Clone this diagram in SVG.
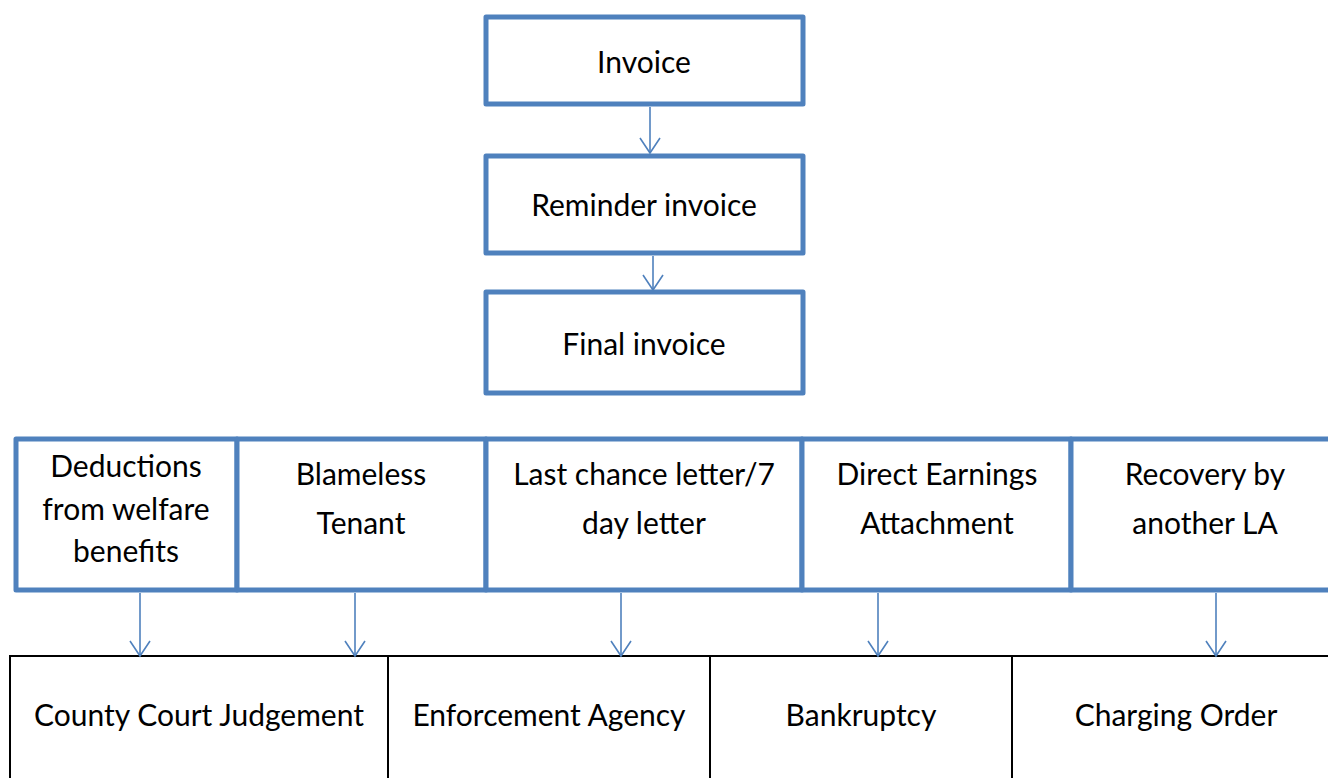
<svg xmlns="http://www.w3.org/2000/svg" width="1328" height="778" viewBox="0 0 1328 778">
<style>
.b{fill:#fff;stroke:#4F81BD;stroke-width:5;stroke-linejoin:round}
.k{fill:#fff;stroke:#000;stroke-width:2}
.t{font-family:Lato,"Open Sans","Liberation Sans",sans-serif;font-size:30px;fill:#000;text-anchor:middle}
.c{stroke:#4F81BD;stroke-width:1.6;fill:none}
</style>
<defs>
<marker id="ah" markerUnits="userSpaceOnUse" markerWidth="20" markerHeight="24" refX="17" refY="11" orient="auto" viewBox="0 0 20 22">
<path d="M2,1 L17,11 L2,21" fill="none" stroke="#4F81BD" stroke-width="1.6"/>
</marker>
</defs>
<rect width="1328" height="778" fill="#fff"/>
<g id="n-invoice"><rect class="b" x="486" y="17" width="317" height="87"/><text class="t" x="644" y="73">Invoice</text></g>
<g id="n-reminder"><rect class="b" x="486" y="156" width="317" height="97"/><text class="t" x="644" y="216">Reminder invoice</text></g>
<g id="n-final"><rect class="b" x="486" y="292" width="317" height="101"/><text class="t" x="644" y="355">Final invoice</text></g>
<g id="n-deductions"><rect class="b" x="16" y="439" width="221" height="151"/><text class="t" x="126" y="477">Deductions</text><text class="t" x="126" y="520">from welfare</text><text class="t" x="126" y="562">benefits</text></g>
<g id="n-blameless"><rect class="b" x="237" y="439" width="249" height="151"/><text class="t" x="361" y="485">Blameless</text><text class="t" x="361" y="534">Tenant</text></g>
<g id="n-lastchance"><rect class="b" x="486" y="439" width="316" height="151"/><text class="t" x="644" y="485">Last chance letter/7</text><text class="t" x="644" y="534">day letter</text></g>
<g id="n-direct"><rect class="b" x="802" y="439" width="269" height="151"/><text class="t" x="937" y="485">Direct Earnings</text><text class="t" x="937" y="534">Attachment</text></g>
<g id="n-recovery"><rect class="b" x="1071" y="439" width="270" height="151"/><text class="t" x="1205" y="485">Recovery by</text><text class="t" x="1205" y="534">another LA</text></g>
<g id="n-ccj"><rect class="k" x="10" y="656" width="378" height="140"/><text class="t" x="199" y="726">County Court Judgement</text></g>
<g id="n-enforcement"><rect class="k" x="388" y="656" width="322" height="140"/><text class="t" x="549" y="726">Enforcement Agency</text></g>
<g id="n-bankruptcy"><rect class="k" x="710" y="656" width="302" height="140"/><text class="t" x="861" y="726">Bankruptcy</text></g>
<g id="n-charging"><rect class="k" x="1012" y="656" width="330" height="140"/><text class="t" x="1176" y="726">Charging Order</text></g>
<g id="connectors">
<line class="c" x1="650" y1="107" x2="650" y2="153" marker-end="url(#ah)"/>
<line class="c" x1="653" y1="256" x2="653" y2="290" marker-end="url(#ah)"/>
<line class="c" x1="140" y1="593" x2="140" y2="656" marker-end="url(#ah)"/>
<line class="c" x1="355" y1="593" x2="355" y2="656" marker-end="url(#ah)"/>
<line class="c" x1="621" y1="593" x2="621" y2="656" marker-end="url(#ah)"/>
<line class="c" x1="878" y1="593" x2="878" y2="656" marker-end="url(#ah)"/>
<line class="c" x1="1216" y1="593" x2="1216" y2="656" marker-end="url(#ah)"/>
</g>
</svg>
